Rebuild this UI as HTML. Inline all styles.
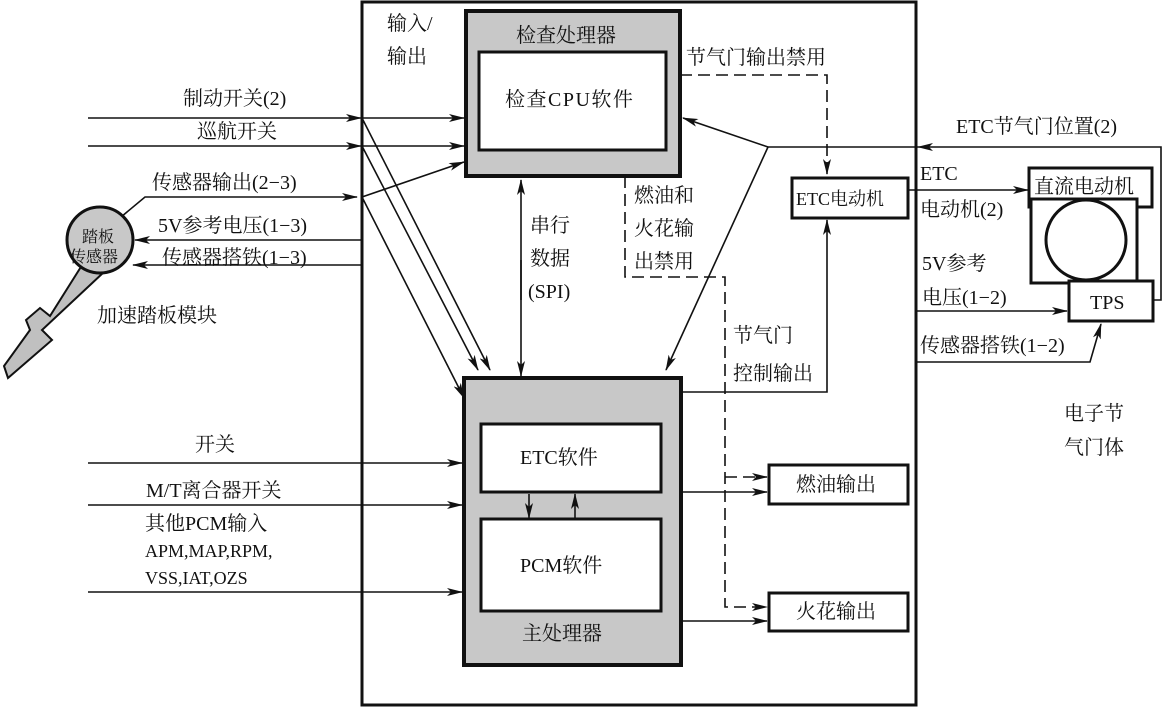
<!DOCTYPE html>
<html><head><meta charset="utf-8"><style>
body{margin:0;background:#fff}
svg text{font-family:"Liberation Serif","Noto Serif CJK SC","Noto Sans CJK SC",serif;font-size:20px;fill:#111}
</style></head><body>
<svg width="1163" height="708" viewBox="0 0 1163 708" xmlns="http://www.w3.org/2000/svg">
<defs>
<marker id="a" markerWidth="16" markerHeight="8" refX="15" refY="4" orient="auto" markerUnits="userSpaceOnUse">
<path d="M0,0 L16,4 L0,8 L4,4 z" fill="#111"/></marker>
</defs>
<g stroke="#111" fill="none">
<rect x="362" y="2" width="554" height="703" stroke-width="3"/>
<rect x="466" y="11" width="214" height="165" fill="#c8c8c8" stroke-width="4"/>
<rect x="479" y="52" width="187" height="98" fill="#fff" stroke-width="3"/>
<rect x="464" y="378" width="217" height="287" fill="#c8c8c8" stroke-width="4"/>
<rect x="481" y="424" width="180" height="68" fill="#fff" stroke-width="3"/>
<rect x="481" y="519" width="180" height="92" fill="#fff" stroke-width="3"/>
<rect x="792" y="178" width="116" height="40" fill="#fff" stroke-width="3"/>
<rect x="769" y="465" width="139" height="39" stroke-width="3"/>
<rect x="769" y="593" width="139" height="38" stroke-width="3"/>
<!-- throttle body -->
<rect x="1029" y="168" width="123" height="39" stroke-width="3"/>
<rect x="1031" y="199" width="106" height="84" fill="#fff" stroke-width="3"/>
<circle cx="1086" cy="240" r="40" stroke-width="3"/>
<rect x="1069" y="281" width="84" height="40" fill="#fff" stroke-width="3"/>

<g stroke-width="1.6">
<line x1="88" y1="118" x2="361" y2="118" marker-end="url(#a)"/>
<line x1="362" y1="118" x2="464" y2="118" marker-end="url(#a)"/>
<line x1="88" y1="146" x2="361" y2="146" marker-end="url(#a)"/>
<line x1="362" y1="146" x2="464" y2="146" marker-end="url(#a)"/>
<polyline points="115,222 145,197 357,197" marker-end="url(#a)"/>
<line x1="362" y1="197" x2="464" y2="162" marker-end="url(#a)"/>
<line x1="362" y1="240" x2="135" y2="240" marker-end="url(#a)"/>
<line x1="362" y1="265" x2="133" y2="265" marker-end="url(#a)"/>
<line x1="362" y1="118" x2="490" y2="370" marker-end="url(#a)"/>
<line x1="362" y1="146" x2="478" y2="370" marker-end="url(#a)"/>
<line x1="362" y1="197" x2="464" y2="398" marker-end="url(#a)"/>
<line x1="88" y1="463" x2="462" y2="463" marker-end="url(#a)"/>
<line x1="88" y1="505" x2="462" y2="505" marker-end="url(#a)"/>
<line x1="88" y1="592" x2="462" y2="592" marker-end="url(#a)"/>
<line x1="521" y1="300" x2="521" y2="180" marker-end="url(#a)"/>
<line x1="521" y1="260" x2="521" y2="376" marker-end="url(#a)"/>
<line x1="529" y1="494" x2="529" y2="518" marker-end="url(#a)"/>
<line x1="575" y1="518" x2="575" y2="494" marker-end="url(#a)"/>
<polyline points="681,392 827,392 827,220" marker-end="url(#a)"/>
<line x1="681" y1="492" x2="767" y2="492" marker-end="url(#a)"/>
<line x1="681" y1="621" x2="767" y2="621" marker-end="url(#a)"/>
<polyline points="1153,300 1161,300 1161,147 918,147" marker-end="url(#a)"/>
<line x1="918" y1="147" x2="768" y2="147"/>
<line x1="768" y1="147" x2="683" y2="118" marker-end="url(#a)"/>
<line x1="768" y1="147" x2="666" y2="370" marker-end="url(#a)"/>
<line x1="908" y1="190" x2="1028" y2="190" marker-end="url(#a)"/>
<line x1="917" y1="311" x2="1067" y2="311" marker-end="url(#a)"/>
<polyline points="917,362 1090,362 1101,324" marker-end="url(#a)"/>
</g>
<g stroke-width="1.6" stroke-dasharray="12,6">
<polyline points="680,75 827,75 827,174" marker-end="url(#a)"/>
<polyline points="625,176 625,277 725,277 725,607 767,607" marker-end="url(#a)"/>
<line x1="725" y1="477" x2="767" y2="477" marker-end="url(#a)"/>
</g>
<polygon points="84,262 104,272 42,330 52,340 8,378 4,366 30,330 26,320 40,308 50,316" fill="#c0c0c0" stroke-width="2"/>
<circle cx="100" cy="240" r="33" fill="#c8c8c8" stroke-width="3"/>
</g>
<g>
<text x="387" y="30">输入/</text><text x="387" y="63">输出</text>
<text x="516" y="42">检查处理器</text>
<text x="505" y="106" letter-spacing="1.5">检查CPU软件</text>
<text x="686" y="64">节气门输出禁用</text>
<text x="183" y="105">制动开关(2)</text>
<text x="197" y="138">巡航开关</text>
<text x="152" y="189">传感器输出(2−3)</text>
<text x="158" y="232">5V参考电压(1−3)</text>
<text x="162" y="264">传感器搭铁(1−3)</text>
<text x="82" y="242" style="font-size:16px">踏板</text>
<text x="70" y="262" style="font-size:16px">传感器</text>
<text x="97" y="322">加速踏板模块</text>
<text x="530" y="232">串行</text><text x="530" y="265">数据</text><text x="528" y="298">(SPI)</text>
<text x="634" y="202">燃油和</text><text x="634" y="235">火花输</text><text x="634" y="268">出禁用</text>
<text x="796" y="205" style="font-size:18px">ETC电动机</text>
<text x="956" y="133">ETC节气门位置(2)</text>
<text x="920" y="180">ETC</text><text x="920" y="216">电动机(2)</text>
<text x="1034" y="193">直流电动机</text>
<text x="1090" y="309">TPS</text>
<text x="922" y="270">5V参考</text><text x="922" y="304">电压(1−2)</text>
<text x="920" y="352">传感器搭铁(1−2)</text>
<text x="733" y="342">节气门</text><text x="733" y="380">控制输出</text>
<text x="1064" y="420">电子节</text><text x="1064" y="454">气门体</text>
<text x="520" y="464">ETC软件</text>
<text x="520" y="572">PCM软件</text>
<text x="522" y="640">主处理器</text>
<text x="796" y="491">燃油输出</text>
<text x="796" y="618">火花输出</text>
<text x="195" y="451">开关</text>
<text x="146" y="497">M/T离合器开关</text>
<text x="145" y="530">其他PCM输入</text>
<text x="145" y="557" style="font-size:18px">APM,MAP,RPM,</text>
<text x="145" y="584" style="font-size:18px">VSS,IAT,OZS</text>
</g>
</svg>
</body></html>
